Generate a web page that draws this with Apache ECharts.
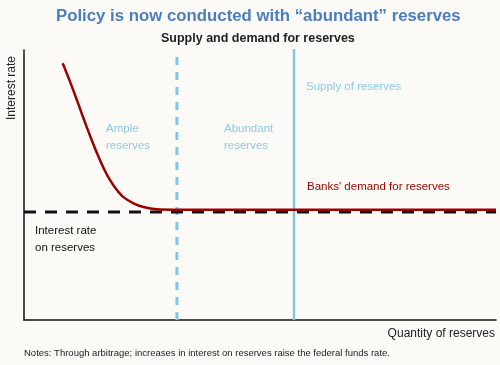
<!DOCTYPE html>
<html><head><meta charset="utf-8">
<script src="https://cdn.jsdelivr.net/npm/echarts@6/dist/echarts.min.js"></script>
<style>html,body{margin:0;padding:0;background:#fbfaf6}#c{width:500px;height:365px}</style>
</head><body><div id="c"></div>
<script>
// Demand curve (x: quantity of reserves 0-100, y: interest rate 0-100)
const demandX = [8.2, 9.75, 11.2, 12.6, 14.0, 15.4, 16.8, 18.2, 19.6, 21.0, 23.2, 25.3, 28.1, 32.4, 45, 60, 80, 100];
const demandY = [95.1, 88.3, 81.5, 74.7, 68.2, 62.0, 56.5, 51.9, 48.3, 45.6, 43.2, 41.85, 41.0, 40.85, 40.8, 40.8, 40.8, 40.8];
const iorX = [0, 100];
const iorY = [40, 40];
const ampleBoundaryX = [32.4, 32.4];
const ampleBoundaryY = [0, 97.4];
const supplyX = [57.2, 57.2];
const supplyY = [0, 100.5];

const zip = (a, b) => a.map((v, i) => [v, b[i]]);
const chart = echarts.init(document.getElementById('c'));
const F = 'Liberation Sans, Arial, sans-serif';
chart.setOption({
  backgroundColor: '#fbfaf6',
  animation: false,
  title: [
    {text: 'Policy is now conducted with \u201cabundant\u201d reserves', left: 51, top: 3,
     textStyle: {fontFamily: F, fontSize: 16.8, fontWeight: 'bold', color: '#4a7ebc'}},
    {text: 'Supply and demand for reserves', left: 156, top: 27,
     textStyle: {fontFamily: F, fontSize: 12.5, fontWeight: 'bold', color: '#222'}}
  ],
  grid: {left: 24, right: 4, top: 50, bottom: 45},
  xAxis: {type: 'value', min: 0, max: 100, axisLine: {lineStyle: {color: '#111', width: 1.5}},
          axisTick: {show: false}, axisLabel: {show: false}, splitLine: {show: false}},
  yAxis: {type: 'value', min: 0, max: 100, axisLine: {show: true, lineStyle: {color: '#111', width: 1.5}},
          axisTick: {show: false}, axisLabel: {show: false}, splitLine: {show: false}},
  series: [
    {type: 'line', data: zip(ampleBoundaryX, ampleBoundaryY), symbol: 'none', z: 1,
     lineStyle: {color: '#7ec8e6', width: 3, type: [8, 7]}},
    {type: 'line', data: zip(supplyX, supplyY), symbol: 'none', z: 1,
     lineStyle: {color: '#7ec8e6', width: 2.5}},
    {type: 'line', data: zip(iorX, iorY), symbol: 'none', z: 2,
     lineStyle: {color: '#111', width: 3, type: [12, 9]}},
    {type: 'line', data: zip(demandX, demandY), symbol: 'none', smooth: 0.3, z: 3,
     lineStyle: {color: '#990000', width: 2.5}}
  ],
  graphic: [
    {type: 'text', left: 6, top: 56, rotation: Math.PI / 2, style: {text: 'Interest rate', fontFamily: F, fontSize: 12, fill: '#222'}},
    {type: 'text', right: 5, top: 328, style: {text: 'Quantity of reserves', fontFamily: F, fontSize: 12, fill: '#222'}},
    {type: 'text', left: 24, top: 348, style: {text: 'Notes: Through arbitrage; increases in interest on reserves raise the federal funds rate.', fontFamily: F, fontSize: 9.5, fill: '#222'}},
    {type: 'text', left: 106, top: 120, style: {text: 'Ample\nreserves', fontFamily: F, fontSize: 11.5, lineHeight: 17, fill: '#8ccbe8'}},
    {type: 'text', left: 224, top: 120, style: {text: 'Abundant\nreserves', fontFamily: F, fontSize: 11.5, lineHeight: 17, fill: '#8ccbe8'}},
    {type: 'text', left: 306, top: 81, style: {text: 'Supply of reserves', fontFamily: F, fontSize: 11.5, fill: '#8ccbe8'}},
    {type: 'text', left: 307, top: 181, style: {text: "Banks' demand for reserves", fontFamily: F, fontSize: 11.5, fill: '#990000'}},
    {type: 'text', left: 35, top: 222, style: {text: 'Interest rate\non reserves', fontFamily: F, fontSize: 11.5, lineHeight: 17, fill: '#111'}}
  ]
});
</script></body></html>
